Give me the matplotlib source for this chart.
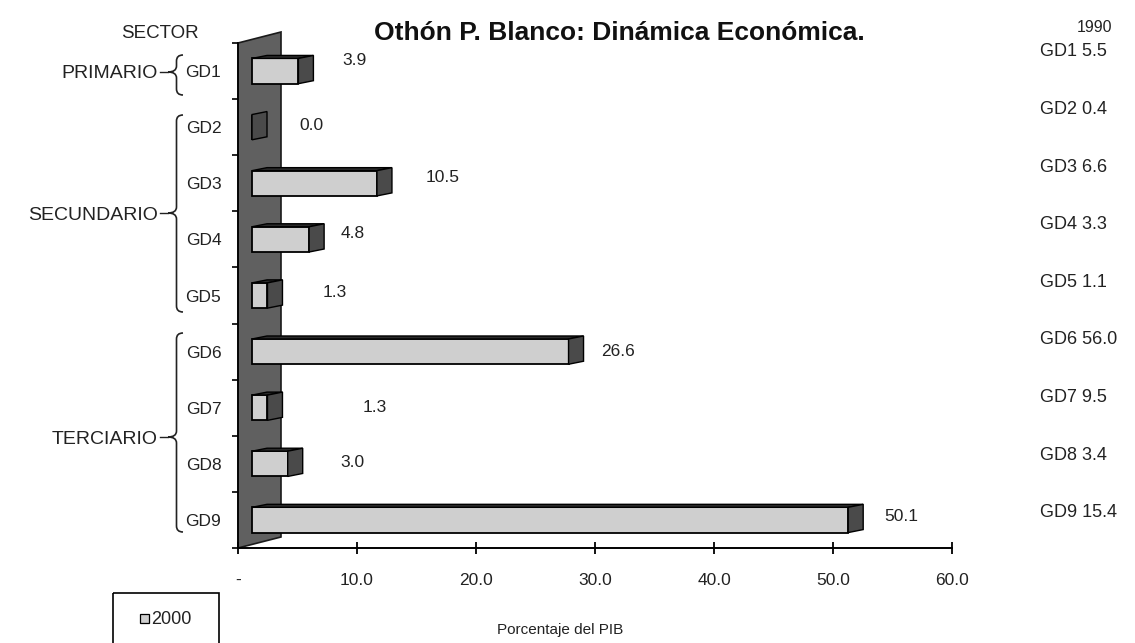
import matplotlib
matplotlib.use("Agg")
import matplotlib.pyplot as plt
from matplotlib.patches import Polygon, Rectangle, PathPatch
from matplotlib.path import Path
from matplotlib.transforms import offset_copy
import matplotlib.transforms as mtransforms

# ---------------- data ----------------
categories = ["GD1", "GD2", "GD3", "GD4", "GD5", "GD6", "GD7", "GD8", "GD9"]
values_2000 = [3.9, 0.0, 10.5, 4.8, 1.3, 26.6, 1.3, 3.0, 50.1]
values_1990 = [5.5, 0.4, 6.6, 3.3, 1.1, 56.0, 9.5, 3.4, 15.4]
sectors = ["PRIMARIO", "SECUNDARIO", "TERCIARIO"]
xticks = [0, 10, 20, 30, 40, 50, 60]
xtick_labels = ["-", "10.0", "20.0", "30.0", "40.0", "50.0", "60.0"]
title = "Othón P. Blanco: Dinámica Económica."
xlabel = "Porcentaje del PIB"
legend_label = "2000"
year_1990 = "1990"

# ---------------- style / layout ----------------
W, H, DPI = 1135, 643, 100
FONT = "Liberation Sans"
plt.rcParams["font.family"] = [FONT, "DejaVu Sans"]
TXT = "#222222"

# value-label gaps (px) after bar end and vertical nudge (px, negative = up)
label_gap = [29, 32, 34, 17, 40, 18, 80, 38, 21]
label_dy = [-11, -2, -6, -6, -3, 0, 0, -1, -3]

ax_l, ax_r, ax_t, ax_b = 238, 952, 43, 548      # pixel box of the axes
front_shift = 14     # px the bar front starts right of x=0
depth_dx, depth_dy = 15, 3   # px of 3D depth
bar_h = 0.45

fig = plt.figure(figsize=(W / DPI, H / DPI), dpi=DPI)
fig.patch.set_facecolor("white")
ax = fig.add_axes([ax_l / W, 1 - ax_b / H, (ax_r - ax_l) / W, (ax_b - ax_t) / H])
ax.set_facecolor("none")
n = len(categories)
ax.set_xlim(0, 60)
ax.set_ylim(n - 0.5, -0.5)

sx = 60 / (ax_r - ax_l)          # data per px (x)
sy = n / (ax_b - ax_t)           # data per px (y)

# back wall (dark grey)
wall_w = 43 * sx
hpx = ax_b - ax_t
wall_trans = mtransforms.blended_transform_factory(ax.transData, ax.transAxes)
wall = Polygon([(0, 0), (0, 1.0), (wall_w, 1 + 11 / hpx), (wall_w, 11 / hpx)],
               closed=True, facecolor="#606060", edgecolor="#1a1a1a", lw=1.2,
               transform=wall_trans, clip_on=False, zorder=1)
ax.add_patch(wall)

# bars
shift_tr = offset_copy(ax.transData, fig=fig, x=front_shift, y=0, units="dots")
ypos = list(range(n))
bars = ax.barh(ypos, values_2000, height=bar_h, color="#cfcfcf",
               edgecolor="black", linewidth=1.3, zorder=3)
for b in bars:
    b.set_transform(shift_tr)
    b.set_clip_on(False)

ddx, ddy = depth_dx * sx, depth_dy * sy
for y, v in zip(ypos, values_2000):
    top, bot = y - bar_h / 2, y + bar_h / 2
    if v > 0:
        topf = Polygon([(0, top), (v, top), (v + ddx, top - ddy), (ddx, top - ddy)],
                       closed=True, facecolor="#2a2a2a", edgecolor="black",
                       lw=1.0, transform=shift_tr, zorder=3, clip_on=False)
        ax.add_patch(topf)
    side = Polygon([(v, top), (v + ddx, top - ddy), (v + ddx, bot - ddy), (v, bot)],
                   closed=True, facecolor="#4a4a4a", edgecolor="black",
                   lw=1.0, transform=shift_tr, zorder=4, clip_on=False)
    ax.add_patch(side)

# value labels
for y, v, g, dy in zip(ypos, values_2000, label_gap, label_dy):
    tr = offset_copy(ax.transData, fig=fig, x=front_shift + depth_dx + g,
                     y=-dy, units="dots")
    ax.text(v, y, f"{v:.1f}", transform=tr, ha="left", va="center",
            fontsize=12.5, color=TXT)

# axes styling
for s in ["top", "right"]:
    ax.spines[s].set_visible(False)
ax.spines["left"].set_color("black")
ax.spines["left"].set_linewidth(1.2)
ax.spines["bottom"].set_linewidth(1.4)
ax.set_xticks(xticks)
ax.set_xticklabels(xtick_labels, fontsize=12.5, color=TXT)
ax.tick_params(axis="x", direction="inout", length=8, width=1.3, pad=14)
ax.set_yticks(ypos)
ax.set_yticklabels(categories, fontsize=12.5, color=TXT)
ax.set_yticks([i - 0.5 for i in range(n + 1)], minor=True)
ax.tick_params(axis="y", which="major", length=0, pad=12)
ax.tick_params(axis="y", which="minor", length=4, width=1.2, direction="out")

# overlay in pixel coordinates for annotations
ov = fig.add_axes([0, 0, 1, 1], zorder=-1)
ov.set_xlim(0, W)
ov.set_ylim(H, 0)
ov.axis("off")

ov.text(560, 630, xlabel, ha="center", va="center", fontsize=11, color=TXT)
ov.text(619, 33, title, ha="center", va="center",
        fontsize=19, fontweight="bold", color="#111111")
ov.text(160, 33, "SECTOR", ha="center", va="center", fontsize=13.5, color=TXT)
ov.text(1095, 28, year_1990, ha="center", va="center", fontsize=11.5, color=TXT)

for i, (c, v) in enumerate(zip(categories, values_1990)):
    ypx = 52 + 57.6 * i
    ov.text(1040, ypx, f"{c} {v:.1f}", ha="left", va="center",
            fontsize=13, color=TXT)

# braces
def brace(x_tip, x_end, y0, y1, ytip):
    xm = (x_tip + x_end) / 2 + 1
    r = 6
    verts = [(x_end, y0), (xm, y0), (xm, y0 + r),
             (xm, ytip - r),
             (xm, ytip), (x_tip, ytip), (x_tip, ytip),
             (xm, ytip), (xm, ytip + r),
             (xm, y1 - r),
             (xm, y1), (x_end, y1), (x_end, y1)]
    codes = [Path.MOVETO, Path.CURVE3, Path.CURVE3,
             Path.LINETO,
             Path.CURVE3, Path.CURVE3, Path.MOVETO,
             Path.CURVE3, Path.CURVE3,
             Path.LINETO,
             Path.CURVE3, Path.CURVE3, Path.LINETO]
    ov.add_patch(PathPatch(Path(verts, codes), fill=False, lw=1.2, color=TXT))

brace_geom = [(55, 95, 72), (115, 312, 213), (333, 532, 437)]
for name, (y0, y1, yt) in zip(sectors, brace_geom):
    brace(168, 183, y0, y1, yt)
    ov.plot([160, 168], [yt, yt], color=TXT, lw=1.0)
    ov.text(158, yt + 2, name, ha="right", va="center", fontsize=14, color=TXT)

# legend box
ov.add_patch(Rectangle((113, 593), 106, 60, fill=False, lw=1.2, edgecolor="black",
                       clip_on=False))
ov.add_patch(Rectangle((140, 614), 9, 9, facecolor="#cfcfcf", edgecolor="black", lw=0.9))
ov.text(151, 619, legend_label, ha="left", va="center", fontsize=13, color=TXT)

fig.savefig("out.png", dpi=DPI, facecolor="white")
